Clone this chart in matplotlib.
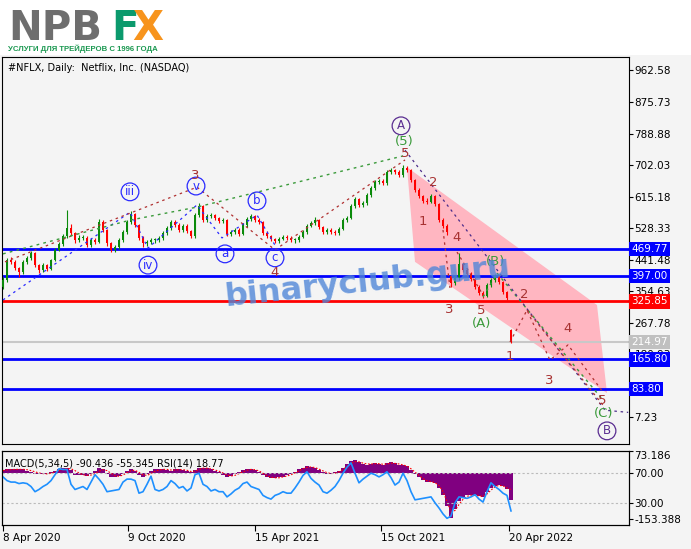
import numpy as np
import matplotlib.pyplot as plt
from matplotlib.patches import Polygon, Rectangle
from matplotlib import transforms

plt.rcParams['font.family'] = 'DejaVu Sans'

# ---- data (one candle ~ 4 trading days) ----
closes = [385, 440, 435, 418, 407, 435, 446, 459, 426, 412,
          426, 415, 440, 468, 484, 506, 528, 514, 495, 501,
          501, 481, 495, 490, 545, 523, 487, 468, 476, 495,
          517, 545, 567, 537, 501, 487, 490, 495, 495, 501,
          514, 528, 545, 537, 523, 534, 520, 506, 564, 589,
          550, 561, 564, 556, 548, 550, 512, 517, 523, 512,
          537, 553, 561, 550, 545, 515, 506, 498, 492, 498,
          504, 501, 495, 495, 504, 517, 534, 542, 550, 531,
          517, 523, 517, 515, 526, 550, 556, 589, 608, 592,
          597, 619, 639, 655, 658, 652, 683, 688, 683, 674,
          694, 688, 661, 633, 617, 603, 600, 617, 595, 550,
          534, 517, 377, 391, 429, 413, 402, 388, 366, 349,
          341, 371, 385, 396, 379, 352, 335, 215]
highs = [392, 446, 448, 440, 422, 440, 452, 466, 462, 430,
         432, 430, 444, 472, 490, 512, 578, 540, 518, 508,
         510, 505, 500, 500, 552, 550, 526, 490, 482, 500,
         522, 550, 575, 570, 540, 505, 496, 500, 502, 506,
         520, 534, 550, 550, 542, 540, 538, 524, 570, 597,
         592, 566, 570, 568, 560, 556, 553, 524, 528, 528,
         542, 558, 567, 565, 556, 548, 520, 510, 502, 504,
         510, 508, 505, 502, 510, 522, 540, 548, 559, 554,
         535, 528, 528, 522, 532, 556, 562, 595, 615, 612,
         604, 625, 645, 660, 664, 664, 688, 694, 692, 688,
         702, 698, 690, 664, 638, 620, 610, 622, 620, 598,
         556, 540, 400, 398, 459, 432, 418, 406, 392, 370,
         354, 376, 390, 402, 400, 382, 356, 250]
lows = [360, 380, 428, 412, 392, 402, 430, 440, 420, 404,
        408, 410, 412, 436, 464, 480, 500, 508, 488, 490,
        494, 476, 476, 484, 486, 518, 480, 462, 462, 470,
        490, 512, 540, 530, 495, 476, 480, 484, 488, 490,
        496, 510, 524, 530, 518, 518, 514, 500, 502, 558,
        544, 545, 555, 550, 542, 542, 506, 506, 512, 506,
        508, 532, 548, 545, 540, 508, 500, 492, 486, 488,
        494, 495, 490, 488, 490, 500, 512, 530, 536, 526,
        512, 512, 512, 509, 510, 522, 545, 552, 584, 586,
        586, 592, 614, 634, 650, 646, 648, 678, 676, 668,
        670, 682, 655, 628, 610, 596, 594, 596, 588, 544,
        528, 510, 366, 372, 386, 406, 396, 382, 360, 344,
        335, 338, 366, 380, 374, 346, 330, 212]
gap_opens = {0: 366, 112: 395, 127: 247}

macd = [10, 12, 12, 12, 12, 12, 8, 3, -2, -4,
        -3, -2, 2, 8, 13, 16, 17, 10, -6, -8,
        -8, -9, -5, 8, 15, 12, -2, -12, -14, -10,
        -2, 8, 14, 8, -8, -12, -5, 8, 12, 12,
        14, 10, 8, 12, 13, 10, 6, 2, 10, 18,
        18, 15, 12, 8, 4, -6, -12, -10, -3, 4,
        9, 12, 14, 10, 4, -8, -14, -17, -17, -15,
        -12, -8, -4, 4, 12, 18, 22, 20, 16, 10,
        4, -2, -3, 2, 8, 18, 30, 40, 42, 35,
        30, 28, 30, 32, 30, 28, 32, 35, 32, 28,
        26, 22, 10, -5, -15, -25, -30, -30, -35, -50,
        -75, -110, -150, -120, -95, -80, -75, -72, -75, -78,
        -80, -65, -50, -42, -40, -45, -55, -90]
signal = [8, 10, 11, 12, 12, 12, 11, 8, 4, 0,
          -2, -3, -1, 3, 8, 12, 15, 14, 8, 0,
          -6, -8, -7, -2, 6, 11, 8, -1, -9, -11,
          -7, 1, 8, 9, 2, -6, -8, -2, 6, 10,
          12, 12, 10, 10, 11, 11, 9, 5, 6, 12,
          16, 16, 14, 10, 6, 0, -7, -10, -8, -2,
          4, 9, 12, 11, 7, -1, -9, -14, -16, -16,
          -13, -10, -6, 0, 7, 14, 19, 20, 18, 13,
          7, 1, -2, -1, 4, 12, 22, 32, 38, 37,
          33, 30, 30, 31, 31, 29, 30, 33, 32, 30,
          27, 23, 14, 3, -8, -19, -26, -29, -32, -42,
          -62, -95, -130, -125, -105, -88, -78, -74, -74, -76,
          -78, -70, -57, -46, -41, -43, -50, -55]
rsi = [65, 60, 58, 58, 56, 57, 56, 52, 45, 48,
       52, 55, 60, 68, 76, 75, 75, 55, 48, 50,
       52, 48, 58, 68, 62, 55, 45, 46, 47, 48,
       58, 62, 62, 60, 43, 45, 55, 66, 48, 46,
       48, 52, 60, 56, 50, 52, 46, 50, 68, 70,
       55, 52, 46, 48, 45, 45, 38, 42, 47, 50,
       56, 58, 52, 50, 48, 40, 37, 35, 40, 42,
       45, 43, 43, 50, 58, 67, 72, 63, 58, 54,
       45, 43, 47, 52, 60, 70, 78, 84, 70, 57,
       62, 66, 70, 68, 65, 68, 72, 64, 54, 58,
       70, 60, 45, 34, 35, 36, 37, 38, 30, 23,
       15, 9, 12, 30, 38, 37, 36, 38, 41, 35,
       31, 45, 57, 52, 48, 43, 40, 19]

price_ticks = [962.58, 875.73, 788.88, 702.03, 615.18, 528.33,
               441.48, 354.63, 267.78, 180.93, 94.08, 7.23]
levels = [469.77, 397.00, 325.85, 165.80, 83.80]
level_colors = ['#0000ff', '#0000ff', '#ff0000', '#0000ff', '#0000ff']
last_price = 214.97
date_labels = ['8 Apr 2020', '9 Oct 2020', '15 Apr 2021', '15 Oct 2021', '20 Apr 2022']
date_pos = [0, 31.25, 63, 94.5, 126.5]

# wave counts (bar index, price)
blue_wave = ([0, 31.75, 36.25, 48.5, 54.75, 63.5, 68],
             [330, 572, 473, 592, 501, 564, 481])
red_wave = ([0.5, 48.5, 68, 100.5], [435, 641, 468, 716])
green_wave = ([0, 31.75, 48.5, 100], [457, 550, 586, 727])
green_down = ([120, 123.5, 150], [338, 404, 54])
purple_down = ([100.5, 150.5, 156.3], [743, 26, 20])
red_down1 = ([110, 111.75], [523, 363])
red_down2 = ([113.5, 120], [462, 344])
red_down3 = ([126.75, 131, 136.75, 141.25, 150], [214, 302, 164, 206, 76])
red_down4 = ([131, 150], [302, 40])
channel_k = [101, 148.5, 151, 103]
channel_p = [696, 316, 73, 435]

W, H = 691, 549
BG = '#f4f4f4'


def rect(x0, y0, x1, y1):
    return [x0 / W, 1 - y1 / H, (x1 - x0) / W, (y1 - y0) / H]


fig = plt.figure(figsize=(W / 100, H / 100), dpi=100, facecolor='white')
fig.patches.append(Rectangle((0, 0), 1, 1 - 55 / H, transform=fig.transFigure,
                             facecolor=BG, edgecolor='none', zorder=-10))

ax = fig.add_axes(rect(2, 57, 629, 444), facecolor=BG)
axl = fig.add_axes(rect(2, 451, 629, 525), facecolor=BG)

n = len(closes)
x = np.arange(n)
c = np.array(closes, float)
o = np.array([gap_opens.get(i, closes[i - 1]) for i in range(n)], float)
cols = np.where(c >= o, '#0a8a0a', '#ff0000')

# pink channel
ax.add_patch(Polygon(list(zip(channel_k, channel_p)), closed=True,
                     facecolor='#ffb6c1', edgecolor='none', zorder=1))

# levels
for lv, lc in zip(levels, level_colors):
    ax.axhline(lv, color=lc, lw=2, zorder=2)
ax.axhline(last_price, color='#c8c8c8', lw=1.5, zorder=2)

# candles
ax.vlines(x, lows, highs, colors=cols, lw=0.8, zorder=3)
body_lo = np.minimum(o, c)
body_h = np.maximum(np.abs(c - o), 2)
ax.bar(x, body_h, bottom=body_lo, width=0.72, color=cols, zorder=3)

# wave lines
ax.plot(*blue_wave, color='#2a2aff', lw=0.9, ls=(0, (2, 3)), zorder=4)
ax.plot(*red_wave, color='#b03030', lw=0.9, ls=(0, (2, 3)), zorder=4)
ax.plot(*green_wave, color='#3a9a3a', lw=1.0, ls=(0, (2, 3)), zorder=4)
ax.plot(*green_down, color='#3a9a3a', lw=1.0, ls=(0, (2, 3)), zorder=4)
ax.plot(*purple_down, color='#4b2c8a', lw=0.9, ls=(0, (2, 3)), zorder=4)
for seg in (red_down1, red_down2, red_down3, red_down4):
    ax.plot(*seg, color='#b03030', lw=0.9, ls=(0, (2, 3)), zorder=4)

# wave labels
circ_blue = [('iii', 31.75, 628), ('iv', 36.25, 426), ('v', 48.25, 644),
             ('a', 55.5, 457), ('b', 63.5, 603), ('c', 68, 446)]
for t, k, p in circ_blue:
    ax.text(k, p, t, color='#2a2aff', ha='center', va='center', fontsize=8.5, zorder=6,
            bbox=dict(boxstyle='circle,pad=0.2', fc='none', ec='#2a2aff', lw=0.9))
for t, k, p in [('A', 99.5, 810), ('B', 151, -31)]:
    ax.text(k, p, t, color='#5a2d91', ha='center', va='center', fontsize=8.5, zorder=6,
            bbox=dict(boxstyle='circle,pad=0.2', fc='none', ec='#5a2d91', lw=0.9))
brown = [('3', 48, 674), ('4', 68, 407), ('5', 100.5, 735), ('2', 107.5, 655),
         ('1', 105, 545), ('4', 113.5, 501), ('3', 111.5, 305), ('5', 119.5, 300),
         ('2', 130.25, 344), ('1', 126.75, 173), ('4', 141.25, 250), ('3', 136.5, 109),
         ('5', 149.75, 54)]
for t, k, p in brown:
    ax.text(k, p, t, color='#a83232', ha='center', va='center', fontsize=9.5, zorder=6)
for t, k, p in [('(5)', 100.25, 768), ('(B)', 123.25, 437), ('(A)', 119.75, 266),
                ('(C)', 150.25, 16)]:
    ax.text(k, p, t, color='#3a9a3a', ha='center', va='center', fontsize=9.5, zorder=6)

# watermark
ax.text(91.25, 379, 'binaryclub.guru', color='#4f86d8', alpha=0.8, fontsize=23,
        fontweight='bold', rotation=6, ha='center', va='center', zorder=7)

ax.text(0.01, 0.985, '#NFLX, Daily:  Netflix, Inc. (NASDAQ)', transform=ax.transAxes,
        fontsize=7, va='top', ha='left')

ax.set_xlim(-0.25, 156.5)
ax.set_ylim(-67.2, 999.8)
ax.set_xticks([])
ax.yaxis.tick_right()
ax.set_yticks(price_ticks)
ax.set_yticklabels([f'{v:.2f}' for v in price_ticks])
ax.tick_params(axis='y', length=3, pad=1, labelsize=7.5)

trans = transforms.blended_transform_factory(ax.transAxes, ax.transData)
for lv, lc in zip(levels, level_colors):
    ax.text(1.004, lv, f'{lv:.2f}', transform=trans, color='white', fontsize=7.5,
            va='center', ha='left', clip_on=False, zorder=10,
            bbox=dict(boxstyle='square,pad=0.2', fc=lc, ec='none'))
ax.text(1.004, last_price, f'{last_price:.2f}', transform=trans, color='white', fontsize=7.5,
        va='center', ha='left', clip_on=False, zorder=10,
        bbox=dict(boxstyle='square,pad=0.2', fc='#c0c0c0', ec='none'))

# lower panel: MACD histogram + RSI
axl.bar(x, macd, width=1.0, color='#800080', zorder=2)
axl.plot(x, signal, color='#ff0000', lw=0.8, ls=(0, (1.5, 1.5)), zorder=3)
axl.set_xlim(-0.25, 156.5)
axl.set_ylim(-173.4, 73.3)

axr = axl.twinx()
axr.set_ylim(0, 100)
axr.axhline(70, color='#bbbbbb', lw=0.8, ls=(0, (2, 2)))
axr.axhline(30, color='#bbbbbb', lw=0.8, ls=(0, (2, 2)))
axr.plot(x, rsi, color='#1e90ff', lw=1.2)
axr.set_yticks([70, 30])
axr.set_yticklabels(['70.00', '30.00'])
axr.tick_params(axis='y', length=3, pad=1, labelsize=7.5)

axl.yaxis.tick_right()
axl.set_yticks([73.186, -153.388])
axl.set_yticklabels(['73.186', '-153.388'])
axl.get_yticklabels()[0].set_va('top')
axl.tick_params(axis='y', length=3, pad=1, labelsize=7.5)
axl.set_xticks(date_pos)
axl.set_xticklabels(date_labels, ha='left')
axl.tick_params(axis='x', length=4, pad=2, labelsize=7.5)

axr.text(0.005, 0.9, 'MACD(5,34,5) -90.436 -55.345 RSI(14) 18.77', transform=axr.transAxes,
         fontsize=7, va='top', ha='left', zorder=5)

# logo
fig.text(8 / W, 1 - 40 / H, 'NPB', color='#6e6e6e', fontsize=29, fontweight='heavy',
         va='baseline', ha='left')
fig.text(111 / W, 1 - 40 / H, 'F', color='#0b9a6d', fontsize=29, fontweight='heavy',
         va='baseline', ha='left')
fig.text(132 / W, 1 - 40 / H, 'X', color='#f7941d', fontsize=29, fontweight='heavy',
         va='baseline', ha='left')
fig.text(8 / W, 1 - 51 / H, 'УСЛУГИ ДЛЯ ТРЕЙДЕРОВ С 1996 ГОДА', color='#1a9850',
         fontsize=5.6, fontweight='bold', family='Liberation Sans', va='baseline', ha='left')

fig.savefig('out.png', dpi=100, facecolor=fig.get_facecolor())
